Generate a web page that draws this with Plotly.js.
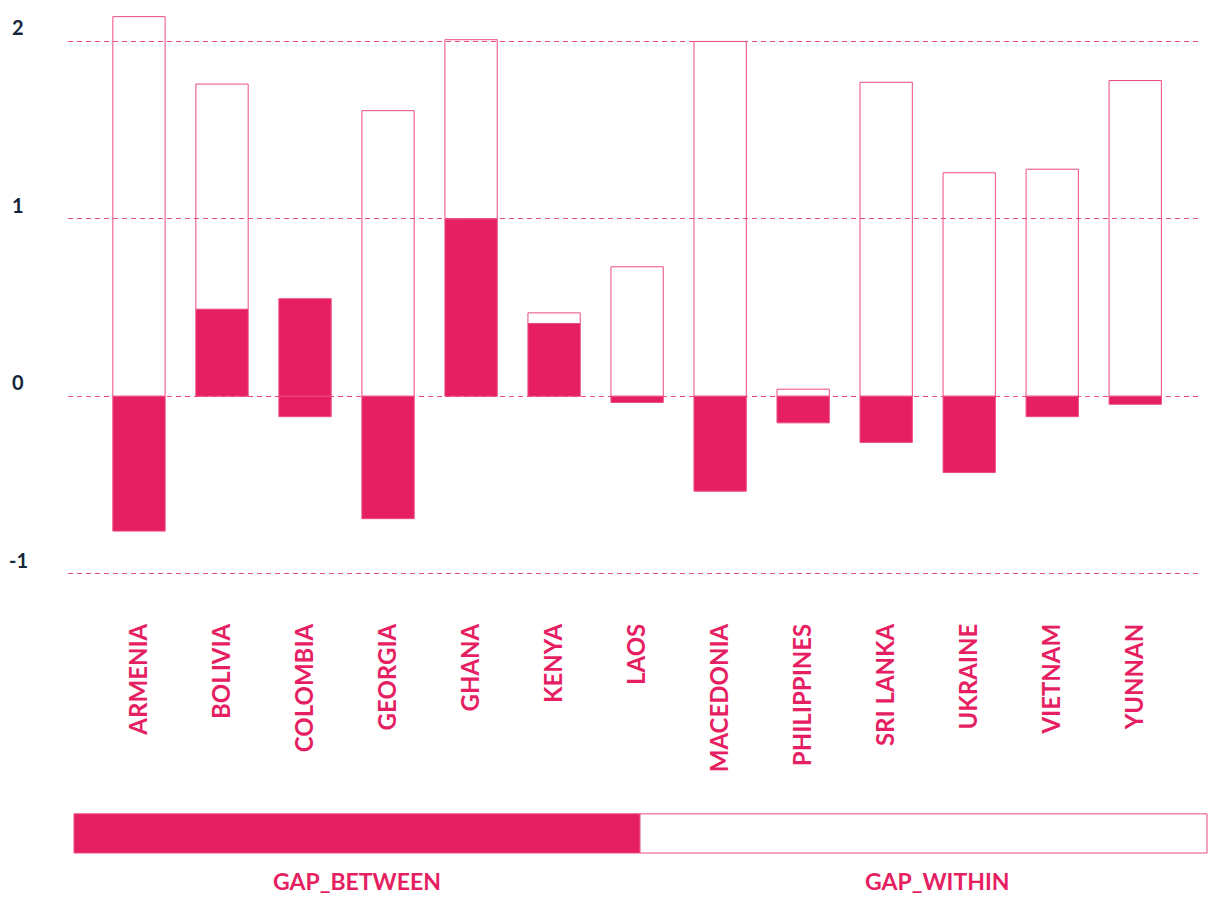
<!DOCTYPE html>
<html>
<head>
<meta charset="utf-8">
<script src="https://cdn.plot.ly/plotly-3.0.1.min.js"></script>
<style>html,body{margin:0;padding:0;background:#fff;}#chart{width:1209px;height:897px;}</style>
</head>
<body>
<div id="chart"></div>
<script>
const categories = ["ARMENIA","BOLIVIA","COLOMBIA","GEORGIA","GHANA","KENYA","LAOS","MACEDONIA","PHILIPPINES","SRI LANKA","UKRAINE","VIETNAM","YUNNAN"];
const seriesNames = ["GAP_BETWEEN","GAP_WITHIN"];
const gapBetween = [-0.76, 0.49, 0.55, -0.69, 1.00, 0.41, -0.035, -0.535, -0.15, -0.26, -0.43, -0.115, -0.045];
const gapWithin  = [2.14, 1.27, -0.115, 1.61, 1.01, 0.06, 0.73, 2.00, 0.04, 1.77, 1.26, 1.28, 1.78];
const yTickVals = [-1, 0, 1, 2];
const yTickText = ["-1", "0", "1", "2"];

const PINK = "#E61E62";
const LINE = "#EB4B80";
const FONT = "Lato, 'Open Sans', sans-serif";

const traces = [
  {type:"bar", name:seriesNames[0], x:categories, y:gapBetween,
   marker:{color:PINK, line:{color:LINE, width:1}}, hoverinfo:"x+y"},
  {type:"bar", name:seriesNames[1], x:categories, y:gapWithin,
   marker:{color:gapWithin.map(v => v < 0 ? PINK : "rgba(255,255,255,0)"), line:{color:LINE, width:1}}, hoverinfo:"x+y"}
];

const annotations = yTickVals.map((v,i) => ({
  xref:"paper", yref:"y", x:-0.044, y:v, yshift:14, text:yTickText[i], showarrow:false,
  xanchor:"center", yanchor:"middle", font:{family:FONT, size:20, color:"#14263A", weight:700}
}));
annotations.push(
  {xref:"paper", yref:"paper", x:(357-68)/1132, y:-0.43, text:seriesNames[0], showarrow:false,
   xanchor:"center", yanchor:"middle", font:{family:FONT, size:23, color:PINK, weight:700}},
  {xref:"paper", yref:"paper", x:(937-68)/1132, y:-0.43, text:seriesNames[1], showarrow:false,
   xanchor:"center", yanchor:"middle", font:{family:FONT, size:23, color:PINK, weight:700}}
);

const layout = {
  width:1209, height:897,
  margin:{l:68, r:9, t:6, b:279},
  paper_bgcolor:"#fff", plot_bgcolor:"#fff",
  barmode:"relative", bargap:0.37,
  showlegend:false,
  xaxis:{range:[-0.855, 12.78], showgrid:false, zeroline:false, showline:false, ticks:"",
         tickangle:-90, tickfont:{family:FONT, size:24, color:PINK, weight:700}, automargin:false},
  yaxis:{range:[-1.25, 2.2], tickvals:yTickVals, showticklabels:false, showgrid:true,
         gridcolor:LINE, griddash:"5px,4px", gridwidth:1, zeroline:false, showline:false},
  annotations:annotations,
  shapes:[
    {type:"rect", xref:"paper", yref:"paper", x0:(74-68)/1132, x1:(640-68)/1132, y0:-0.384, y1:-0.320,
     fillcolor:PINK, line:{color:LINE, width:1}},
    {type:"rect", xref:"paper", yref:"paper", x0:(640-68)/1132, x1:(1207-68)/1132, y0:-0.384, y1:-0.320,
     fillcolor:"#fff", line:{color:LINE, width:1}}
  ]
};

Plotly.newPlot("chart", traces, layout, {displayModeBar:false, staticPlot:true});
</script>
</body>
</html>
